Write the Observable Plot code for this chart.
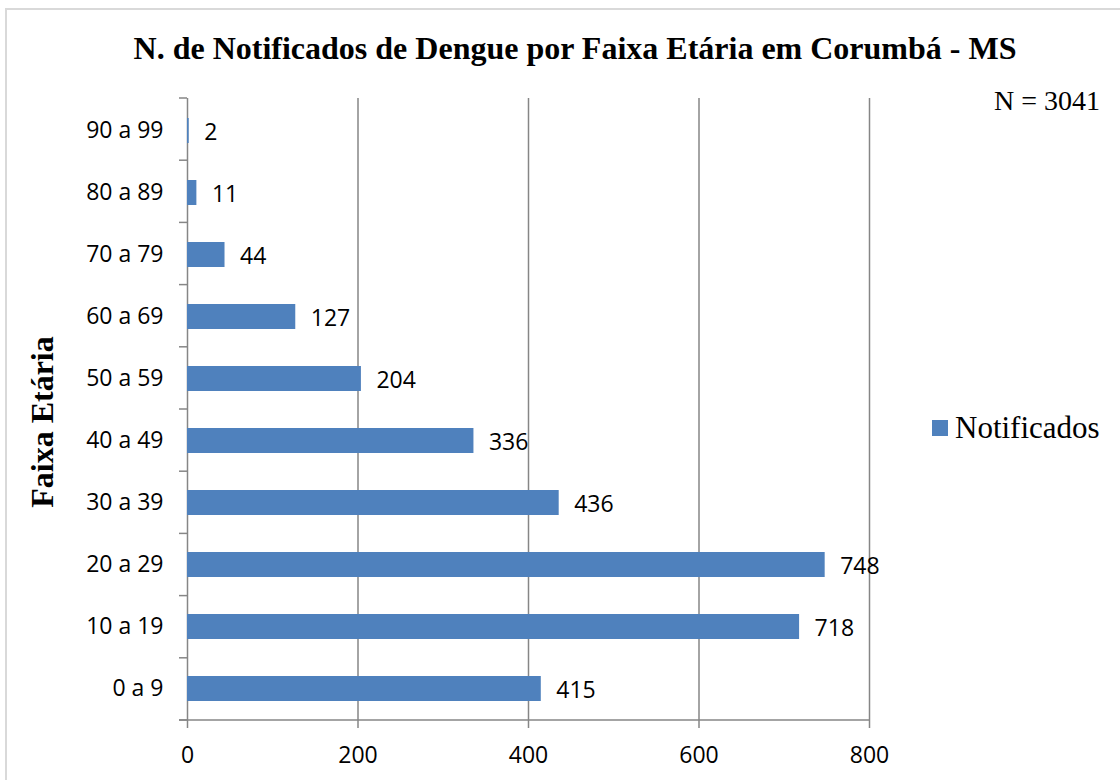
<!DOCTYPE html>
<html>
<head>
<meta charset="utf-8">
<script src="https://cdn.jsdelivr.net/npm/d3@7"></script>
<script src="https://cdn.jsdelivr.net/npm/@observablehq/plot@0.6"></script>
<style>
  html, body { margin: 0; padding: 0; background: #fff; overflow: hidden; }
  #wrap { position: relative; width: 1120px; height: 780px; }
  #frame { position: absolute; left: 5px; top: 8px; width: 1130px; height: 790px;
           border: 2px solid #d9d9d9; box-sizing: border-box; }
  #chart { position: absolute; left: 0; top: 0; }
  #overlay { position: absolute; left: 0; top: 0; pointer-events: none; }
  #chart svg text { font-family: "Open Sans", sans-serif; }
</style>
</head>
<body>
<div id="wrap">
  <div id="frame"></div>
  <div id="chart"></div>
  <svg id="overlay" width="1120" height="780"></svg>
</div>
<script>
// ---- data ----
const categories = ["0 a 9", "10 a 19", "20 a 29", "30 a 39", "40 a 49", "50 a 59", "60 a 69", "70 a 79", "80 a 89", "90 a 99"];
const notificados = [415, 718, 748, 436, 336, 204, 127, 44, 11, 2];
const xTicks = [0, 200, 400, 600, 800];
const titleText = "N. de Notificados de Dengue por Faixa Etária em Corumbá - MS";
const totalText = "N = 3041";
const seriesName = "Notificados";
const yAxisTitle = "Faixa Etária";

const data = categories.map((c, i) => ({cat: c, value: notificados[i]}));

const gray = "#868686";
const barColor = "#4F81BD";
const W = 1120, H = 780;

// boundary ticks + bottom axis line, drawn from the scales
function axisFrame(index, scales, values, dims) {
  const {x, y} = scales;
  const bottom = dims.height - dims.marginBottom;
  const top = dims.marginTop;
  const step = (bottom - top) / categories.length;
  const x0 = x(0);
  const g = d3.create("svg:g").attr("stroke", gray).attr("stroke-width", 1.5).attr("fill", "none");
  for (let i = 0; i <= categories.length; i++) {
    const yy = top + i * step;
    g.append("line").attr("x1", x0 - 8).attr("x2", x0).attr("y1", yy).attr("y2", yy);
  }
  g.append("line").attr("x1", x0 - 8).attr("x2", x(xTicks[xTicks.length - 1])).attr("y1", bottom).attr("y2", bottom);
  return g.node();
}

const chart = Plot.plot({
  width: W,
  height: H,
  marginLeft: 187,
  marginRight: 251,
  marginTop: 98,
  marginBottom: 60,
  style: {fontFamily: "Open Sans, sans-serif", fontSize: "23px", color: "#000", background: "transparent"},
  x: {domain: [0, 800], ticks: xTicks, label: null},
  y: {domain: categories.slice().reverse(), paddingInner: 0.6, paddingOuter: 0.3, label: null},
  marks: [
    Plot.gridX(xTicks.slice(1), {stroke: gray, strokeOpacity: 1, strokeWidth: 1.5}),
    Plot.ruleX([0], {stroke: gray, strokeWidth: 1.5}),
    axisFrame,
    Plot.barX(data, {x: "value", y: "cat", fill: barColor}),
    Plot.text(data, {x: "value", y: "cat", text: d => String(d.value), textAnchor: "start", dx: 15, dy: 2, fontSize: 23, fill: "#000"}),
    Plot.axisY({tickSize: 0, tickPadding: 24, fontSize: 23, fill: "#000", label: null}),
    Plot.axisX(xTicks, {tickSize: 8, tickPadding: 18, stroke: gray, strokeWidth: 1.5, fontSize: 23, fill: "#000", label: null, tickFormat: d => String(d)})
  ]
});
document.getElementById("chart").appendChild(chart);

// ---- annotations: title, N, legend, y-axis title ----
const ov = d3.select("#overlay");
const serif = "'Liberation Serif', 'Times New Roman', serif";
ov.append("text").attr("x", 575).attr("y", 59).attr("text-anchor", "middle")
  .attr("font-family", serif).attr("font-weight", "bold").attr("font-size", 32).attr("fill", "#000")
  .text(titleText);
ov.append("text").attr("x", 994).attr("y", 110).attr("font-family", serif)
  .attr("font-size", 28).attr("fill", "#000").text(totalText);
ov.append("rect").attr("x", 932).attr("y", 420).attr("width", 16).attr("height", 16).attr("fill", barColor);
ov.append("text").attr("x", 955).attr("y", 438).attr("font-family", serif)
  .attr("font-size", 31).attr("fill", "#000").text(seriesName);
ov.append("text").attr("transform", "translate(53,422) rotate(-90)").attr("text-anchor", "middle")
  .attr("font-family", serif).attr("font-weight", "bold").attr("font-size", 32).attr("fill", "#000")
  .text(yAxisTitle);
</script>
</body>
</html>
